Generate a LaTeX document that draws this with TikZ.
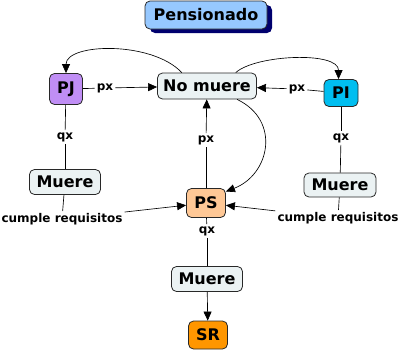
\documentclass[tikz,border=0pt]{standalone}
\usepackage{fontspec}
\setmainfont{DejaVu Sans}
\usetikzlibrary{arrows.meta}
\definecolor{pensfill}{RGB}{150,200,255}
\definecolor{pensshadow}{RGB}{0,0,110}
\definecolor{plainfill}{RGB}{235,242,243}
\definecolor{pjfill}{RGB}{192,142,245}
\definecolor{pifill}{RGB}{0,190,240}
\definecolor{psfill}{RGB}{255,200,150}
\definecolor{srfill}{RGB}{255,150,0}
\definecolor{edge}{RGB}{40,40,40}
\tikzset{
  concept/.style={draw=edge, line width=0.8pt, rounded corners=5pt, inner sep=0pt,
    font=\fontsize{16}{19}\selectfont\bfseries, text=black},
  linklabel/.style={inner sep=2pt, font=\fontsize{12}{14}\selectfont\bfseries},
  link/.style={draw=black, line width=0.65pt},
  linkarrow/.style={link, -{Triangle[length=9pt,width=8pt]}},
}
\begin{document}
\begin{tikzpicture}[x=1pt,y=-1pt]
\useasboundingbox (0,0) rectangle (405,351);

% title with drop shadow
\fill[pensshadow, rounded corners=5pt] (150,5) rectangle (272,33);
\node[concept, fill=pensfill, minimum width=122pt, minimum height=28pt] (pens) at (206,15) {Pensionado};

% concepts
\node[concept, fill=plainfill, minimum width=99pt, minimum height=26pt] (nomuere) at (207,86) {No muere};
\node[concept, fill=pjfill, minimum width=33pt, minimum height=31pt] (pj) at (66,89) {PJ};
\node[concept, fill=pifill, minimum width=34pt, minimum height=27pt] (pi) at (341,93) {PI};
\node[concept, fill=plainfill, minimum width=71pt, minimum height=25pt] (muereL) at (65,182) {Muere};
\node[concept, fill=plainfill, minimum width=72pt, minimum height=24pt] (muereR) at (340,185) {Muere};
\node[concept, fill=psfill, minimum width=39pt, minimum height=29pt] (ps) at (206,203) {PS};
\node[concept, fill=plainfill, minimum width=71pt, minimum height=25pt] (muereB) at (207,279) {Muere};
\node[concept, fill=srfill, minimum width=39pt, minimum height=28pt] (sr) at (208,335) {SR};

% linking phrases
\node[linklabel] (pxL) at (105,88) {px};
\node[linklabel] (pxR) at (297,89) {px};
\node[linklabel] (pxC) at (206,140) {px};
\node[linklabel] (qxL) at (65,137) {qx};
\node[linklabel] (qxR) at (341,138) {qx};
\node[linklabel] (qxB) at (207,231) {qx};
\node[linklabel] (crL) at (62,219) {cumple requisitos};
\node[linklabel] (crR) at (338,218) {cumple requisitos};

% straight links
\draw[link] (pj) -- (pxL);
\draw[linkarrow] (pxL) -- (nomuere);
\draw[link] (pi) -- (pxR);
\draw[linkarrow] (pxR) -- (nomuere);
\draw[link] (ps) -- (pxC);
\draw[linkarrow] (pxC) -- (nomuere);
\draw[link] (pj) -- (qxL);
\draw[link] (qxL) -- (muereL);
\draw[link] (pi) -- (qxR);
\draw[link] (qxR) -- (muereR);
\draw[link] (ps) -- (qxB);
\draw[link] (qxB) -- (muereB);
\draw[link] (muereL) -- (crL);
\draw[linkarrow] (crL) -- (ps);
\draw[link] (muereR) -- (crR);
\draw[linkarrow] (crR) -- (ps);
\draw[linkarrow] (muereB) -- (sr);

% curved links
\draw[linkarrow] (nomuere.152) .. controls +(-30,-32) and +(0,-30) .. (pj.north);
\draw[linkarrow] (nomuere.25) .. controls +(20,-18) and +(0,-28) .. (pi.100);
\draw[linkarrow] (nomuere.-24) .. controls +(44,21) and +(44,-17) .. (ps.30);
\end{tikzpicture}
\end{document}
